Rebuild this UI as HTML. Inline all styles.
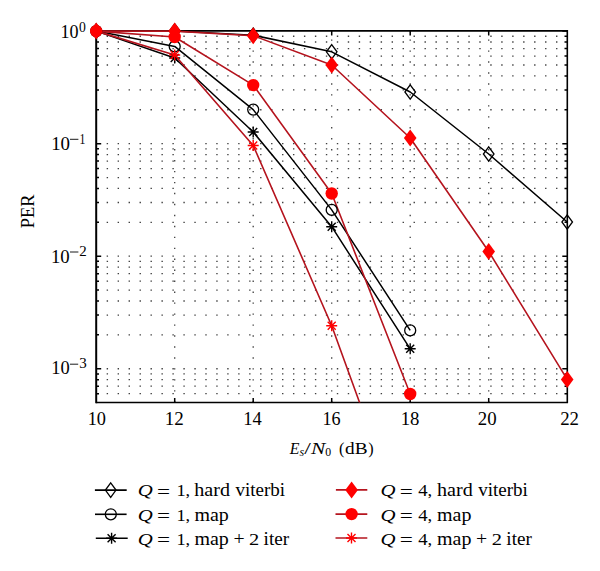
<!DOCTYPE html><html><head><meta charset="utf-8"><style>html,body{margin:0;padding:0;background:#fff;overflow:hidden;width:600px;height:571px;}svg{display:block;}text{font-family:"Liberation Serif",serif;fill:#000;}</style></head><body><svg width="600" height="571" viewBox="0 0 600 571"><rect width="600" height="571" fill="#fff"/><defs><clipPath id="c"><rect x="96.2" y="10.9" width="491.1" height="391.6"/></clipPath></defs><path d="M96.2 143.65H567.3M96.2 256.2H567.3M96.2 368.75H567.3M96.2 109.77H567.3M96.2 89.95H567.3M96.2 75.89H567.3M96.2 64.98H567.3M96.2 56.07H567.3M96.2 48.53H567.3M96.2 42.01H567.3M96.2 36.25H567.3M96.2 222.32H567.3M96.2 202.5H567.3M96.2 188.44H567.3M96.2 177.53H567.3M96.2 168.62H567.3M96.2 161.08H567.3M96.2 154.56H567.3M96.2 148.8H567.3M96.2 334.87H567.3M96.2 315.05H567.3M96.2 300.99H567.3M96.2 290.08H567.3M96.2 281.17H567.3M96.2 273.63H567.3M96.2 267.11H567.3M96.2 261.35H567.3M96.2 393.72H567.3M96.2 386.18H567.3M96.2 379.66H567.3M96.2 373.9H567.3" stroke="#404040" stroke-width="1.3" stroke-dasharray="1.4 9.56" stroke-dashoffset="0.5" fill="none"/><path d="M174.7 402.5V30.9M253.2 402.5V30.9M331.7 402.5V30.9M410.2 402.5V30.9M488.7 402.5V30.9" stroke="#404040" stroke-width="1.3" stroke-dasharray="1.4 9.56" fill="none"/><path d="M174.7 402.5v-4.5M174.7 30.9v4.5M253.2 402.5v-4.5M253.2 30.9v4.5M331.7 402.5v-4.5M331.7 30.9v4.5M410.2 402.5v-4.5M410.2 30.9v4.5M488.7 402.5v-4.5M488.7 30.9v4.5M96.2 31.1h5M567.3 31.1h-5M96.2 143.65h5M567.3 143.65h-5M96.2 256.2h5M567.3 256.2h-5M96.2 368.75h5M567.3 368.75h-5M96.2 109.77h2.8M567.3 109.77h-2.8M96.2 89.95h2.8M567.3 89.95h-2.8M96.2 75.89h2.8M567.3 75.89h-2.8M96.2 64.98h2.8M567.3 64.98h-2.8M96.2 56.07h2.8M567.3 56.07h-2.8M96.2 48.53h2.8M567.3 48.53h-2.8M96.2 42.01h2.8M567.3 42.01h-2.8M96.2 36.25h2.8M567.3 36.25h-2.8M96.2 222.32h2.8M567.3 222.32h-2.8M96.2 202.5h2.8M567.3 202.5h-2.8M96.2 188.44h2.8M567.3 188.44h-2.8M96.2 177.53h2.8M567.3 177.53h-2.8M96.2 168.62h2.8M567.3 168.62h-2.8M96.2 161.08h2.8M567.3 161.08h-2.8M96.2 154.56h2.8M567.3 154.56h-2.8M96.2 148.8h2.8M567.3 148.8h-2.8M96.2 334.87h2.8M567.3 334.87h-2.8M96.2 315.05h2.8M567.3 315.05h-2.8M96.2 300.99h2.8M567.3 300.99h-2.8M96.2 290.08h2.8M567.3 290.08h-2.8M96.2 281.17h2.8M567.3 281.17h-2.8M96.2 273.63h2.8M567.3 273.63h-2.8M96.2 267.11h2.8M567.3 267.11h-2.8M96.2 261.35h2.8M567.3 261.35h-2.8M96.2 393.72h2.8M567.3 393.72h-2.8M96.2 386.18h2.8M567.3 386.18h-2.8M96.2 379.66h2.8M567.3 379.66h-2.8M96.2 373.9h2.8M567.3 373.9h-2.8" stroke="#000" stroke-width="1.5" fill="none"/><path d="M96.2 30.4V403.3" stroke="#000" stroke-width="2" fill="none"/><path d="M96.2 30.9H567.3V402.5H96.2" stroke="#000" stroke-width="1.6" fill="none"/><g clip-path="url(#c)"><path d="M96.2 31.1L174.7 31.1L253.2 35.2L331.7 51.8L410.2 92L488.7 154L567.2 222" stroke="#000" stroke-width="1.5" fill="none" stroke-linejoin="round"/><path d="M96.2 31.1L174.7 46.4L253.2 109.6L331.7 209.9L410.2 330.4" stroke="#000" stroke-width="1.5" fill="none" stroke-linejoin="round"/><path d="M96.2 31.1L174.7 58L253.2 132L331.7 226.7L410.2 348.8" stroke="#000" stroke-width="1.5" fill="none" stroke-linejoin="round"/><path d="M96.2 31.1L174.7 31.1L253.2 35.7L331.7 65L410.2 138L488.7 251.5L567.2 379.4" stroke="#b5141e" stroke-width="1.6" fill="none" stroke-linejoin="round"/><path d="M96.2 31.1L174.7 37L253.2 85.1L331.7 193.5L410.2 394" stroke="#b5141e" stroke-width="1.6" fill="none" stroke-linejoin="round"/><path d="M96.2 31.1L174.7 55L253.2 145.5L331.7 325.7L410.2 542" stroke="#b5141e" stroke-width="1.6" fill="none" stroke-linejoin="round"/></g><path d="M96.2 23.9L101.5 31.1L96.2 38.3L90.9 31.1Z" fill="none" stroke="#000" stroke-width="1.3"/><path d="M174.7 23.9L180 31.1L174.7 38.3L169.4 31.1Z" fill="none" stroke="#000" stroke-width="1.3"/><path d="M253.2 28L258.5 35.2L253.2 42.4L247.9 35.2Z" fill="none" stroke="#000" stroke-width="1.3"/><path d="M331.7 44.6L337 51.8L331.7 59L326.4 51.8Z" fill="none" stroke="#000" stroke-width="1.3"/><path d="M410.2 84.8L415.5 92L410.2 99.2L404.9 92Z" fill="none" stroke="#000" stroke-width="1.3"/><path d="M488.7 146.8L494 154L488.7 161.2L483.4 154Z" fill="none" stroke="#000" stroke-width="1.3"/><path d="M567.2 214.8L572.5 222L567.2 229.2L561.9 222Z" fill="none" stroke="#000" stroke-width="1.3"/><circle cx="96.2" cy="31.1" r="5.5" fill="none" stroke="#000" stroke-width="1.3"/><circle cx="174.7" cy="46.4" r="5.5" fill="none" stroke="#000" stroke-width="1.3"/><circle cx="253.2" cy="109.6" r="5.5" fill="none" stroke="#000" stroke-width="1.3"/><circle cx="331.7" cy="209.9" r="5.5" fill="none" stroke="#000" stroke-width="1.3"/><circle cx="410.2" cy="330.4" r="5.5" fill="none" stroke="#000" stroke-width="1.3"/><path d="M96.2 25.6V36.6M90.7 31.1H101.7M92.2 27.1L100.2 35.1M92.2 35.1L100.2 27.1" stroke="#000" stroke-width="1.4" fill="none"/><path d="M174.7 52.5V63.5M169.2 58H180.2M170.7 54L178.7 62M170.7 62L178.7 54" stroke="#000" stroke-width="1.4" fill="none"/><path d="M253.2 126.5V137.5M247.7 132H258.7M249.2 128L257.2 136M249.2 136L257.2 128" stroke="#000" stroke-width="1.4" fill="none"/><path d="M331.7 221.2V232.2M326.2 226.7H337.2M327.7 222.7L335.7 230.7M327.7 230.7L335.7 222.7" stroke="#000" stroke-width="1.4" fill="none"/><path d="M410.2 343.3V354.3M404.7 348.8H415.7M406.2 344.8L414.2 352.8M406.2 352.8L414.2 344.8" stroke="#000" stroke-width="1.4" fill="none"/><path d="M96.2 22.6L102.5 31.1L96.2 39.6L89.9 31.1Z" fill="#f00"/><path d="M174.7 22.6L181 31.1L174.7 39.6L168.4 31.1Z" fill="#f00"/><path d="M253.2 27.2L259.5 35.7L253.2 44.2L246.9 35.7Z" fill="#f00"/><path d="M331.7 56.5L338 65L331.7 73.5L325.4 65Z" fill="#f00"/><path d="M410.2 129.5L416.5 138L410.2 146.5L403.9 138Z" fill="#f00"/><path d="M488.7 243L495 251.5L488.7 260L482.4 251.5Z" fill="#f00"/><path d="M567.2 370.9L573.5 379.4L567.2 387.9L560.9 379.4Z" fill="#f00"/><circle cx="96.2" cy="31.1" r="6.2" fill="#f00"/><circle cx="174.7" cy="37" r="6.2" fill="#f00"/><circle cx="253.2" cy="85.1" r="6.2" fill="#f00"/><circle cx="331.7" cy="193.5" r="6.2" fill="#f00"/><circle cx="410.2" cy="394" r="6.2" fill="#f00"/><path d="M96.2 25.6V36.6M90.7 31.1H101.7M92.2 27.1L100.2 35.1M92.2 35.1L100.2 27.1" stroke="#f00" stroke-width="1.4" fill="none"/><path d="M174.7 49.5V60.5M169.2 55H180.2M170.7 51L178.7 59M170.7 59L178.7 51" stroke="#f00" stroke-width="1.4" fill="none"/><path d="M253.2 140V151M247.7 145.5H258.7M249.2 141.5L257.2 149.5M249.2 149.5L257.2 141.5" stroke="#f00" stroke-width="1.4" fill="none"/><path d="M331.7 320.2V331.2M326.2 325.7H337.2M327.7 321.7L335.7 329.7M327.7 329.7L335.7 321.7" stroke="#f00" stroke-width="1.4" fill="none"/><text transform="translate(87.64 424.8) scale(0.9949 1)" font-size="18.4">10</text><text transform="translate(164.83 424.8) scale(1.0338 1)" font-size="18.4">12</text><text transform="translate(243.37 424.8) scale(1.0063 1)" font-size="18.4">14</text><text transform="translate(322.41 424.8) scale(0.9855 1)" font-size="18.4">16</text><text transform="translate(400.65 424.8) scale(1.0198 1)" font-size="18.4">18</text><text transform="translate(477.87 424.8) scale(1.0242 1)" font-size="18.4">20</text><text transform="translate(560.17 424.8) scale(1.0256 1)" font-size="18.4">22</text><text transform="translate(60.51 38.45) scale(0.9825 1)" font-size="18.4">10</text><text transform="translate(79.08 31.7) scale(1.0062 1)" font-size="13.6">0</text><text transform="translate(51.14 149.65) scale(1.0260 1)" font-size="18.4">10</text><path d="M70 139.3H78.4" stroke="#000" stroke-width="0.9"/><text transform="translate(79.58 143.6) scale(0.8563 1)" font-size="13.6">1</text><text transform="translate(50.95 262.55) scale(1.0198 1)" font-size="18.4">10</text><path d="M70 252H78.4" stroke="#000" stroke-width="0.9"/><text transform="translate(79.34 256) scale(1.1005 1)" font-size="13.6">2</text><text transform="translate(51.18 374.25) scale(1.0011 1)" font-size="18.4">10</text><path d="M70 364.2H78.2" stroke="#000" stroke-width="0.9"/><text transform="translate(79.18 368.2) scale(1.1036 1)" font-size="13.6">3</text><text transform="translate(34.3 211.4) rotate(-90)" font-size="18.4" text-anchor="middle">PER</text><text transform="translate(289.79 453.9) scale(0.8994 1)" font-size="17.6" font-style="italic">E</text><text transform="translate(299.45 456.4) scale(0.9577 1)" font-size="12.5" font-style="italic">s</text><text transform="translate(304.2 453.9) scale(1.3497 1)" font-size="17.6">/</text><text transform="translate(310.96 453.9) scale(1.2180 1)" font-size="17.6" font-style="italic">N</text><text transform="translate(325.35 456.4) scale(0.9438 1)" font-size="12.5">0</text><text transform="translate(338.89 453.9) scale(0.9181 1)" font-size="17.6">(</text><text transform="translate(345.1 453.9) scale(1.0975 1)" font-size="17.6">dB</text><text transform="translate(368.23 453.9) scale(0.9181 1)" font-size="17.6">)</text><path d="M94.9 490.1H126.7" stroke="#000" stroke-width="1.6"/><path d="M110.7 482.9L116 490.1L110.7 497.3L105.4 490.1Z" fill="none" stroke="#000" stroke-width="1.3"/><path d="M95 514.3H126.6" stroke="#000" stroke-width="1.6"/><circle cx="110.8" cy="514.3" r="5.5" fill="none" stroke="#000" stroke-width="1.3"/><path d="M95.8 538.2H127.7" stroke="#000" stroke-width="1.6"/><path d="M111.6 532.7V543.7M106.1 538.2H117.1M107.6 534.2L115.6 542.2M107.6 542.2L115.6 534.2" stroke="#000" stroke-width="1.4" fill="none"/><path d="M335.9 489.9H367.3" stroke="#b5141e" stroke-width="1.7"/><path d="M351.6 481.4L357.9 489.9L351.6 498.4L345.3 489.9Z" fill="#f00"/><path d="M335.5 514.1H367.3" stroke="#b5141e" stroke-width="1.7"/><circle cx="351.6" cy="514.1" r="6.2" fill="#f00"/><path d="M335.5 538H367.3" stroke="#b5141e" stroke-width="1.7"/><path d="M351.5 532.5V543.5M346 538H357M347.5 534L355.5 542M347.5 542L355.5 534" stroke="#f00" stroke-width="1.4" fill="none"/><text transform="translate(137.85 496.2) scale(1.1965 1)" font-size="17.4" font-style="italic">Q</text><text transform="translate(157.04 497.5) scale(1.2614 1)" font-size="18.4">=</text><text transform="translate(176.39 496.2) scale(1.0800 1)" font-size="17">1,</text><text transform="translate(194.3 496.2) scale(1.0932 1)" font-size="18.4">hard</text><text transform="translate(235.5 496.2) scale(1.0340 1)" font-size="18.4">viterbi</text><text transform="translate(137.85 520.5) scale(1.1965 1)" font-size="17.4" font-style="italic">Q</text><text transform="translate(157.04 521.8) scale(1.2614 1)" font-size="18.4">=</text><text transform="translate(176.39 520.5) scale(1.0800 1)" font-size="17">1,</text><text transform="translate(194.38 520.5) scale(1.0859 1)" font-size="18.4">map</text><text transform="translate(137.85 544.8) scale(1.1965 1)" font-size="17.4" font-style="italic">Q</text><text transform="translate(157.04 546.1) scale(1.2614 1)" font-size="18.4">=</text><text transform="translate(176.39 544.8) scale(1.0800 1)" font-size="17">1,</text><text transform="translate(194.38 544.8) scale(1.0859 1)" font-size="18.4">map</text><text transform="translate(233.42 544.8) scale(1.0745 1)" font-size="18.4">+</text><text transform="translate(249.1 544.8) scale(1.1892 1)" font-size="17.2">2</text><text transform="translate(263.6 544.8) scale(1.0430 1)" font-size="18.4">iter</text><text transform="translate(380.55 496.2) scale(1.1965 1)" font-size="17.4" font-style="italic">Q</text><text transform="translate(399.74 497.5) scale(1.2614 1)" font-size="18.4">=</text><text transform="translate(418.13 496.2) scale(1.1016 1)" font-size="17">4,</text><text transform="translate(437 496.2) scale(1.0932 1)" font-size="18.4">hard</text><text transform="translate(478.2 496.2) scale(1.0340 1)" font-size="18.4">viterbi</text><text transform="translate(380.55 520.5) scale(1.1965 1)" font-size="17.4" font-style="italic">Q</text><text transform="translate(399.74 521.8) scale(1.2614 1)" font-size="18.4">=</text><text transform="translate(418.13 520.5) scale(1.1016 1)" font-size="17">4,</text><text transform="translate(437.08 520.5) scale(1.0859 1)" font-size="18.4">map</text><text transform="translate(380.55 544.8) scale(1.1965 1)" font-size="17.4" font-style="italic">Q</text><text transform="translate(399.74 546.1) scale(1.2614 1)" font-size="18.4">=</text><text transform="translate(418.13 544.8) scale(1.1016 1)" font-size="17">4,</text><text transform="translate(437.08 544.8) scale(1.0859 1)" font-size="18.4">map</text><text transform="translate(476.12 544.8) scale(1.0745 1)" font-size="18.4">+</text><text transform="translate(491.8 544.8) scale(1.1892 1)" font-size="17.2">2</text><text transform="translate(506.3 544.8) scale(1.0430 1)" font-size="18.4">iter</text></svg></body></html>
